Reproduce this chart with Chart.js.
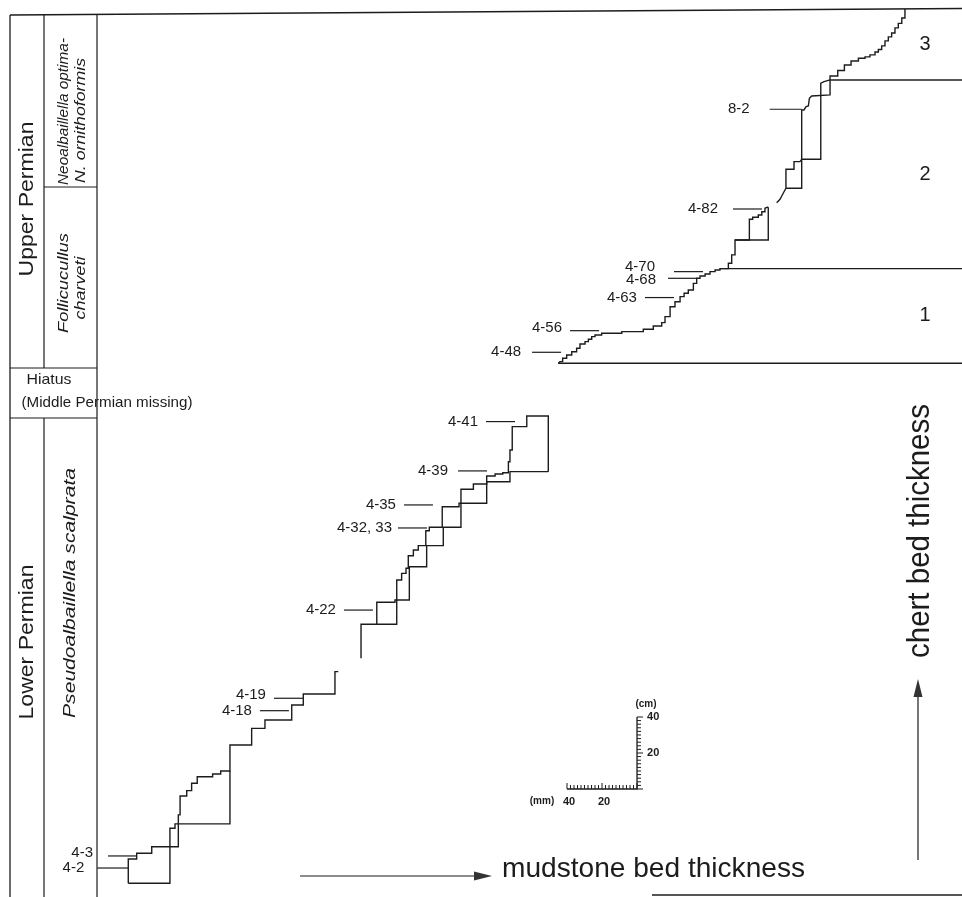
<!DOCTYPE html>
<html>
<head>
<meta charset="utf-8">
<script src="https://cdn.jsdelivr.net/npm/chart.js@4.4.1/dist/chart.umd.min.js"></script>
<style>
  html, body { margin: 0; padding: 0; background: #fff; }
  #wrap { width: 962px; height: 897px; position: relative; }
</style>
</head>
<body>
<div id="wrap"><canvas id="c" width="962" height="897"></canvas></div>
<script>
// Cumulative plots: x = cumulative mudstone bed thickness (mm),
// y = cumulative chert bed thickness (cm). Each vertex is a bed boundary.

// Lower Permian (Pseudoalbaillella scalprata zone), lower part
const lowerStepsA = [
  [73.3,7.6],[73.3,21.1],[78.1,21.1],[78.1,24.3],[86.7,24.3],[86.7,27.9],[101.9,27.9],
  [101.9,45.6],[102.9,45.6],[102.9,56.1],[106.7,56.1],[106.7,59.1],[109.5,59.1],[109.5,63.2],
  [112.7,63.2],[112.7,66.8],[121.5,66.8],[121.5,68.3],[126.1,68.3],[126.1,70],[131.4,70],
  [131.4,84.4],[143.8,84.4],[143.8,93.7],[151.4,93.7],[151.4,98.3],[166.7,98.3],[166.7,106.7],
  [173.3,106.7],[173.3,112.8],[191.4,112.8],[191.4,125.2],[193.3,125.2]
];
const lowerStepsB = [
  [73.3,7.6],[97.1,7.6],[97.1,38.2],[100,38.2],[100,40.6],[131.4,40.6],[131.4,70]
];

// Lower Permian, upper part
const middleStepsA = [
  [206.3,132.6],[206.3,151.5],[215.3,151.5],[215.3,163.7],[225.7,163.7],[225.7,165],[226.7,165],
  [226.7,176.1],[229.5,176.1],[229.5,179.8],[232,179.8],[232,182.6],[233.3,182.6],[233.3,189.6],
  [236.2,189.6],[236.2,192.8],[239,192.8],[239,195.2],[243.3,195.2],[243.3,203.5],[245.3,203.5],
  [245.3,205.4],[252.7,205.4],[252.7,216.8],[262.3,216.8],[262.3,218.7],[263.4,218.7],[263.4,226.5],
  [270.5,226.5],[270.5,229.4],[278.1,229.4],[278.1,233.9],[282.9,233.9],[282.9,235],[287.3,235],
  [287.3,235.7],[290.5,235.7],[290.5,241.8],[291.4,241.8],[291.4,248.3],[292.7,248.3],[292.7,261.3],
  [301,261.3],[301,267.2],[313.3,267.2],[313.3,236.3]
];
const middleStepsB = [
  [215.3,151.5],[226.7,151.5],[226.7,165],[233.9,165],[233.9,183.5],[243.8,183.5],[243.8,195.2],
  [253.3,195.2],[253.3,205.4],[263.4,205.4],[263.4,218.7],[278.1,218.7],[278.1,230.7],[291.4,230.7],
  [291.4,236.3],[313.3,236.3]
];

// Upper Permian (units 1-3)
const upperStepsA = [
  [319,296.5],[320,297.4],[321.5,297.4],[321.5,299.3],[323.8,299.3],[323.8,301.1],[326.7,301.1],
  [326.7,302.9],[329.5,302.9],[329.5,304.8],[331.4,304.8],[331.4,307.2],[334.3,307.2],[334.3,308.5],
  [336.2,308.5],[336.2,309.8],[338.1,309.8],[338.1,311.3],[340,311.3],[340,312.2],[343.8,312.2],
  [343.8,313.2],[355.3,313.2],[355.3,314.1],[367.6,314.1],[367.6,315.4],[373.3,315.4],[373.3,317.2],
  [378.1,317.2],[378.1,319.1],[380,319.1],[380,322.4],[382.9,322.4],[382.9,327.9],[385.7,327.9],
  [385.7,330.7],[388.6,330.7],[388.6,333.5],[390.9,333.5],[390.9,335.4],[393.3,335.4],[393.3,337.2],
  [396.2,337.2],[396.2,340.9],[398.1,340.9],[398.1,343.7],[400,343.7],[400,345],[402.9,345],
  [402.9,346.1],[405.7,346.1],[405.7,347.4],[408.6,347.4],[408.6,348.3],[411.4,348.3],[411.4,349.1],
  [416.2,349.1],[416.2,352.1],[418.1,352.1],[418.1,356.7],[420,356.7],[420,365],[428.2,365],
  [428.2,376.5],[430.1,376.5],[430.1,377.6],[433.3,377.6],[433.3,378.9],[435.3,378.9],[435.3,380.7],
  [437.1,380.7],[437.1,382.6],[438.5,383.2],[439,383.2]
];
const upperBoxB = [[420,365],[439,365],[439,383.2]];
const upperStepsC = [
  [443.8,385.7],[445.7,387.6],[446.7,389.4],[448,391.8],[449.1,393.7],[449.1,404.3],[453.7,404.3],
  [453.7,408.5],[457.1,408.5],[458.1,409.8],[458.1,437.2],[459.4,437.2],[460.6,439.1],[461.9,439.4],
  [462.5,443.7],[463.8,445],[474.3,445.6],[474.3,453.9],[474.3,456.1],[478.7,456.1],[478.7,459.1],
  [482.5,459.1],[482.5,462.2],[486.3,462.2],[486.3,464.4],[490.5,464.4],[490.5,465.9],[494.3,465.9],
  [494.3,466.7],[497.1,466.7],[497.1,467.8],[500,467.8],[500,469.4],[501.9,469.4],[501.9,470.8],
  [503.8,470.8],[503.8,472.8],[505.7,472.8],[505.7,475.6],[507.6,475.6],[507.6,477.8],[509.5,477.8],
  [509.5,480],[511.4,480],[511.4,482.8],[513.3,482.8],[513.3,485.3],[515.3,485.3],[515.3,488.3],
  [517.1,488.3],[517.1,493.3]
];
const upperStepsD = [
  [449.1,393.7],[458.1,393.7],[458.1,409.8],[469,409.8],[469,452.1],[470.9,453],[474.3,453.9]
];

// Lithologic units of the Upper Permian section
const unitNames = ['1', '2', '3'];
const unitBase = [296.5, 349.1, 453.9];      // cm
const unitStartX = [319, 411.4, 474.3];      // mm
const sectionTop = 493.3;                    // cm

// Sample horizons
const sampleNames = ['4-2','4-3','4-18','4-19','4-22','4-32, 33','4-35','4-39','4-41',
                     '4-48','4-56','4-63','4-68','4-70','4-82','8-2'];
const sampleLevels = [16.1,22.8,103.5,110.4,159.4,205,217.8,236.7,264.1,
                      302.6,314.6,333,343.7,347.4,382.2,437.6];   // cm
const sampleTips = [73.3,78.3,165.1,173.1,213.1,244,247.4,278.3,294.3,
                    320.6,342.3,385.1,398.3,401.7,435.4,458.1];    // mm

// Scale bar: 40 mm of mudstone, 40 cm of chert
const scaleOrigin = [364, 60];
const scaleTicksMm = [40, 20];
const scaleTicksCm = [40, 20];

const X_MAX = 549.7, Y_MAX = 498.3;
const INK = '#1c1c1c';
const FONT = '"Liberation Sans", Arial, Helvetica, sans-serif';

const toXY = pts => pts.map(p => ({ x: p[0], y: p[1] }));
const stairSets = [lowerStepsA, lowerStepsB, middleStepsA, middleStepsB,
                   upperStepsA, upperBoxB, upperStepsC, upperStepsD];
const datasets = stairSets.map(pts => ({
  data: toXY(pts), showLine: true, borderColor: INK, borderWidth: 1.4,
  pointRadius: 0, fill: false, tension: 0
}));
unitBase.forEach((b, i) => {
  datasets.push({
    data: [{ x: unitStartX[i], y: b }, { x: X_MAX, y: b }],
    showLine: true, borderColor: INK, borderWidth: 1.4, pointRadius: 0, fill: false
  });
});

function seg(ctx, pts, w) {
  ctx.beginPath();
  ctx.moveTo(pts[0][0], pts[0][1]);
  for (let i = 1; i < pts.length; i++) ctx.lineTo(pts[i][0], pts[i][1]);
  ctx.lineWidth = w || 1.3;
  ctx.strokeStyle = INK;
  ctx.stroke();
}
// Text stretched along its own direction to a given length
function fitText(ctx, text, x, y, len, font, rot, align) {
  ctx.save();
  ctx.translate(x, y);
  ctx.rotate(rot || 0);
  ctx.font = font;
  const w = ctx.measureText(text).width;
  if (len) ctx.scale(len / w, 1);
  ctx.textAlign = align || 'center';
  ctx.textBaseline = 'middle';
  ctx.fillStyle = INK;
  ctx.fillText(text, 0, 0);
  ctx.restore();
}

const decor = {
  id: 'decor',
  afterDatasetsDraw(chart) {
    const { ctx, scales: { x, y } } = chart;
    const up = -Math.PI / 2;
    ctx.save();

    // stratigraphic columns
    seg(ctx, [[10, 15], [962, 8.5]], 1.4);
    seg(ctx, [[10, 15], [10, 897]], 1.3);
    seg(ctx, [[44, 15], [44, 368]], 1.2);
    seg(ctx, [[44, 418], [44, 897]], 1.2);
    seg(ctx, [[97, 14], [97, 897]], 1.2);
    seg(ctx, [[44, 187], [97, 187]], 1.2);
    seg(ctx, [[10, 368], [97, 368]], 1.2);
    seg(ctx, [[10, 418], [97, 418]], 1.2);
    seg(ctx, [[652, 895], [962, 895]], 1.6);

    fitText(ctx, 'Upper Permian', 27, 199, 155, '21px ' + FONT, up);
    fitText(ctx, 'Lower Permian', 27, 642, 155, '21px ' + FONT, up);
    fitText(ctx, 'Neoalbaillella optima-', 64, 185, 147, 'italic 15px ' + FONT, up, 'left');
    fitText(ctx, 'N. ornithoformis', 81, 183, 125, 'italic 15px ' + FONT, up, 'left');
    fitText(ctx, 'Follicucullus', 64, 283, 100, 'italic 15px ' + FONT, up);
    fitText(ctx, 'charveti', 81, 288, 63, 'italic 15px ' + FONT, up);
    fitText(ctx, 'Pseudoalbaillella scalprata', 71, 593, 250, 'italic 16px ' + FONT, up);
    fitText(ctx, 'Hiatus', 49, 380, 45, '15px ' + FONT);
    fitText(ctx, '(Middle Permian missing)', 107, 403, 171, '15px ' + FONT);

    // unit numbers
    unitNames.forEach((n, i) => {
      const top = i < unitBase.length - 1 ? unitBase[i + 1] : sectionTop;
      const my = y.getPixelForValue((unitBase[i] + top) / 2);
      fitText(ctx, n, chart.chartArea.right - 37, my, null, '20px ' + FONT);
    });

    // sample leaders: label gap and vertical nudge per label
    const nudge = { '4-3': -3, '4-19': -3, '4-56': -3, '4-70': -5, '4-68': 2 };
    const gap = { '4-2': 13, '4-3': 15, '4-82': 15, '4-70': 19, '4-68': 12, '8-2': 20,
                  '4-48': 11, '4-39': 10, '4-32, 33': 6 };
    sampleNames.forEach((n, i) => {
      const py = y.getPixelForValue(sampleLevels[i]);
      const xe = x.getPixelForValue(sampleTips[i]);
      const xs = xe - (n === '4-2' ? 31 : n === '8-2' ? 32 : 29);
      seg(ctx, [[xs, py], [xe, py]], 1.2);
      fitText(ctx, n, xs - (gap[n] || 8), py + (nudge[n] || 0), null, '15px ' + FONT, 0, 'right');
    });

    // scale bar
    const ox = x.getPixelForValue(scaleOrigin[0]);
    const oy = y.getPixelForValue(scaleOrigin[1]);
    const hx0 = x.getPixelForValue(scaleOrigin[0] - 40);
    const vy1 = y.getPixelForValue(scaleOrigin[1] + 40);
    seg(ctx, [[hx0, oy], [ox, oy], [ox, vy1]], 1.3);
    for (let v = 0; v <= 40; v += 2) {
      const tx = x.getPixelForValue(scaleOrigin[0] - v);
      const ty = y.getPixelForValue(scaleOrigin[1] + v);
      const long = v % 20 === 0;
      seg(ctx, [[tx, oy], [tx, oy - (long ? 6 : 4)]], 1);
      seg(ctx, [[ox, ty], [ox + (long ? 6 : 4), ty]], 1);
    }
    scaleTicksMm.forEach(v => {
      fitText(ctx, String(v), x.getPixelForValue(scaleOrigin[0] - v) + 2, oy + 13, null, 'bold 11px ' + FONT);
    });
    scaleTicksCm.forEach(v => {
      fitText(ctx, String(v), ox + 10, y.getPixelForValue(scaleOrigin[1] + v), null, 'bold 11px ' + FONT, 0, 'left');
    });
    fitText(ctx, '(mm)', hx0 - 25, oy + 12, null, 'bold 10px ' + FONT);
    fitText(ctx, '(cm)', ox + 9, vy1 - 13, null, 'bold 10px ' + FONT);

    // axis arrows
    seg(ctx, [[300, 876], [478, 876]], 1.2);
    ctx.beginPath(); ctx.moveTo(474, 871.5); ctx.lineTo(492, 876); ctx.lineTo(474, 880.5); ctx.closePath();
    ctx.fillStyle = '#333'; ctx.fill();
    fitText(ctx, 'mudstone bed thickness', 502, 869, 303, '28px ' + FONT, 0, 'left');

    seg(ctx, [[918, 860], [918, 694]], 1.2);
    ctx.beginPath(); ctx.moveTo(913.5, 697); ctx.lineTo(918, 679); ctx.lineTo(922.5, 697); ctx.closePath();
    ctx.fillStyle = '#333'; ctx.fill();
    fitText(ctx, 'chert bed thickness', 920, 531, 254, '31px ' + FONT, up);

    ctx.restore();
  }
};

new Chart(document.getElementById('c'), {
  type: 'scatter',
  data: { datasets },
  options: {
    responsive: false,
    animation: false,
    devicePixelRatio: 1,
    layout: { padding: 0 },
    plugins: { legend: { display: false }, tooltip: { enabled: false } },
    elements: { point: { radius: 0 }, line: { tension: 0 } },
    scales: {
      x: { type: 'linear', min: 0, max: X_MAX, display: false },
      y: { type: 'linear', min: 0, max: Y_MAX, display: false }
    }
  },
  plugins: [decor]
});
</script>
</body>
</html>
